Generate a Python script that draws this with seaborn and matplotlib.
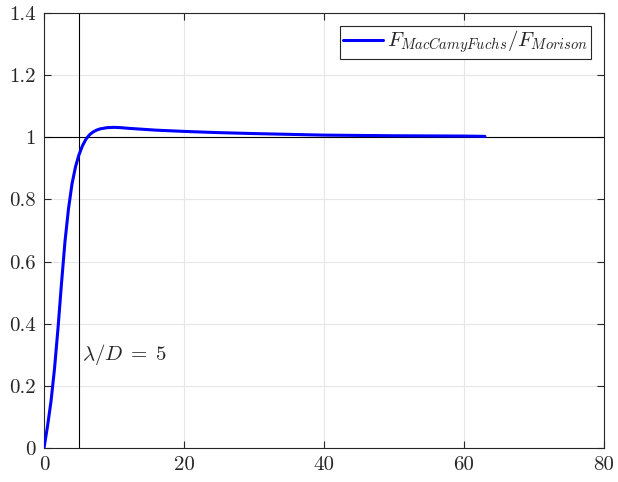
import numpy as np
import pandas as pd
import matplotlib
matplotlib.use("Agg")
import matplotlib.pyplot as plt
import seaborn as sns

# data
lam_over_D = [0, 0.5, 1.0, 1.5, 2.0, 2.5, 3.0, 3.5, 4.0, 4.5, 5.0, 5.5, 6.0, 6.5,
              7.0, 7.5, 8.0, 9.0, 10.0, 11.0, 12.0, 14.0, 16.0, 20.0, 25.0, 30.0,
              36.0, 40.0, 50.0, 60.0, 63.0]
ratio = [0.0, 0.07, 0.15, 0.255, 0.385, 0.53, 0.665, 0.77, 0.85, 0.905, 0.944,
         0.973, 0.994, 1.008, 1.017, 1.023, 1.027, 1.031, 1.032, 1.031, 1.029,
         1.026, 1.023, 1.019, 1.015, 1.012, 1.009, 1.007, 1.005, 1.004, 1.003]
xticks = [0, 20, 40, 60, 80]
yticks = [0, 0.2, 0.4, 0.6, 0.8, 1.0, 1.2, 1.4]
ytick_labels = ["0", "0.2", "0.4", "0.6", "0.8", "1", "1.2", "1.4"]
xtick_labels = ["0", "20", "40", "60", "80"]
marker_x = 5
ref_y = 1.0
series_label = r"$F_{MacCamyFuchs}/F_{Morison}$"
annot = r"$\lambda/D\;=\;5$"

sns.set_theme(style="white")
plt.rcParams["font.family"] = ["cmr10", "DejaVu Serif"]
plt.rcParams["mathtext.fontset"] = "cm"
plt.rcParams["axes.formatter.use_mathtext"] = True

df = pd.DataFrame({"x": lam_over_D, "y": ratio})

fig = plt.figure(figsize=(6.18, 4.82), dpi=100)
ax = fig.add_axes([0.0712, 0.0705, 0.906, 0.9025])

ax.grid(True, color="#e6e6e6", linewidth=0.8)
ax.set_axisbelow(True)

ax.axhline(ref_y, color="black", linewidth=0.8, zorder=2)
ax.axvline(marker_x, color="black", linewidth=0.8, zorder=2)

sns.lineplot(data=df, x="x", y="y", ax=ax, color="#0000ff", linewidth=2.2,
             label=series_label, zorder=3)

ax.text(5.4, 0.30, annot, fontsize=15, color="#262626", va="center", ha="left")

ax.set_xlim(0, 80)
ax.set_ylim(0, 1.4)
ax.set_xticks(xticks)
ax.set_xticklabels(xtick_labels)
ax.set_yticks(yticks)
ax.set_yticklabels(ytick_labels)
ax.set_xlabel("")
ax.set_ylabel("")

for s in ax.spines.values():
    s.set_color("#262626")
    s.set_linewidth(0.8)
    s.set_visible(True)

ax.tick_params(axis="both", which="both", direction="in", length=5, width=0.8,
               color="#262626", labelcolor="#262626", labelsize=15,
               top=True, right=True, bottom=True, left=True, pad=6)

leg = ax.legend(loc="upper right", fontsize=15, frameon=True, fancybox=False,
                framealpha=1, edgecolor="#262626", handlelength=1.9,
                borderpad=0.15, handletextpad=0.2, borderaxespad=0.6)
leg.get_frame().set_linewidth(0.8)

fig.savefig("out.png", dpi=100)
